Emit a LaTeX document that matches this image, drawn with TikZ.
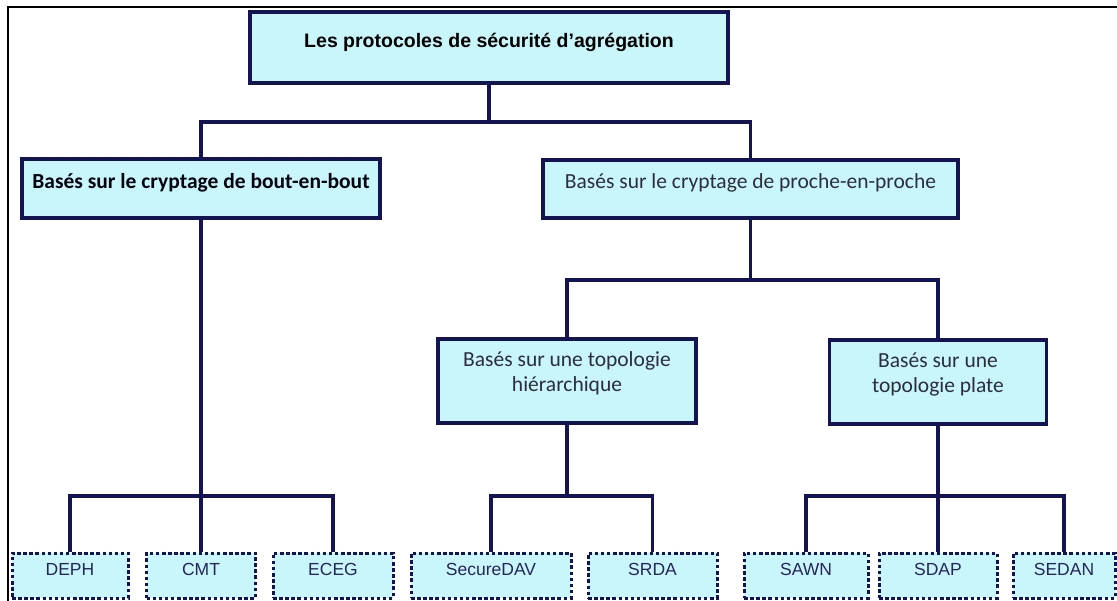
\documentclass[tikz,border=0pt]{standalone}
\usepackage{fontspec}
\setmainfont{Liberation Sans}
\newfontfamily\calib{Carlito}

\definecolor{boxfill}{RGB}{200,246,250}
\definecolor{navyline}{RGB}{20,20,85}
\definecolor{ink}{RGB}{45,45,60}

\tikzset{
  box/.style={draw=navyline,fill=boxfill,line width=3.2pt,inner sep=0pt,text=ink,
    text height=0.75em,text depth=0.75em},
  mid/.style={box,font=\calib\fontsize{21.5}{25.5}\selectfont},
  twoline/.style={mid,align=center,text height=42pt,text depth=20pt},
  leaf/.style={box,line width=3pt,dash pattern=on 3.5pt off 2.6pt,minimum height=45,
    font=\fontsize{17.5}{21}\selectfont,text=ink!85!blue},
  link/.style={navyline,line width=3.2pt}
}

\begin{document}
\begin{tikzpicture}[x=1pt,y=-1pt]
\useasboundingbox (0,0) rectangle (1117,601);
% frame
\draw[black,line width=2.6pt] (8,601) -- (8,7) -- (1117,7);

% upper levels
\node[box,minimum width=478,minimum height=71,text=black,
  font=\bfseries\fontsize{19.5}{23}\selectfont] (title) at (489,47.5)
  {Les protocoles de sécurité d'agrégation};
\node[mid,minimum width=358,minimum height=59,text=black!80!navyline,
  font=\calib\bfseries\fontsize{21.5}{25.5}\selectfont] (e2e) at (201,188.5)
  {Basés sur le cryptage de bout-en-bout};
\node[mid,minimum width=415,minimum height=58] (hbh) at (750.5,189)
  {Basés sur le cryptage de proche-en-proche};
\node[twoline,minimum width=258,minimum height=84] (hier) at (567,381)
  {Basés sur une topologie\\hiérarchique};
\node[twoline,minimum width=217,minimum height=84] (plate) at (938,382)
  {Basés sur une\\topologie plate};

% protocols
\foreach \name/\x/\w/\lab in {deph/70/116/DEPH,cmt/201/109/CMT,eceg/333/120/ECEG,
    securedav/491/160/SecureDAV,srda/652.5/129/SRDA,sawn/806/124/SAWN,
    sdap/938/118/SDAP,sedan/1064/102/SEDAN}
  \node[leaf,minimum width=\w] (\name) at (\x,575.5) {\lab};

% connectors
\coordinate (top bus) at (489,122);
\coordinate (hbh bus) at (750.5,280);
\coordinate (left bus) at (201,496);
\coordinate (hier bus) at (567,496);
\coordinate (plate bus) at (938,496);

\draw[link] (title.south) -- (top bus);
\draw[link] (e2e.north) |- (top bus) -| (hbh.north);
\draw[link] (hbh.south) -- (hbh bus);
\draw[link] (hier.north) |- (hbh bus) -| (plate.north);

\draw[link] (e2e.south) -- (cmt.north);
\draw[link] (deph.north) |- (left bus) -| (eceg.north);
\draw[link] (hier.south) -- (hier bus);
\draw[link] (securedav.north) |- (hier bus) -| (srda.north);
\draw[link] (plate.south) -- (sdap.north);
\draw[link] (sawn.north) |- (plate bus) -| (sedan.north);
\end{tikzpicture}
\end{document}
